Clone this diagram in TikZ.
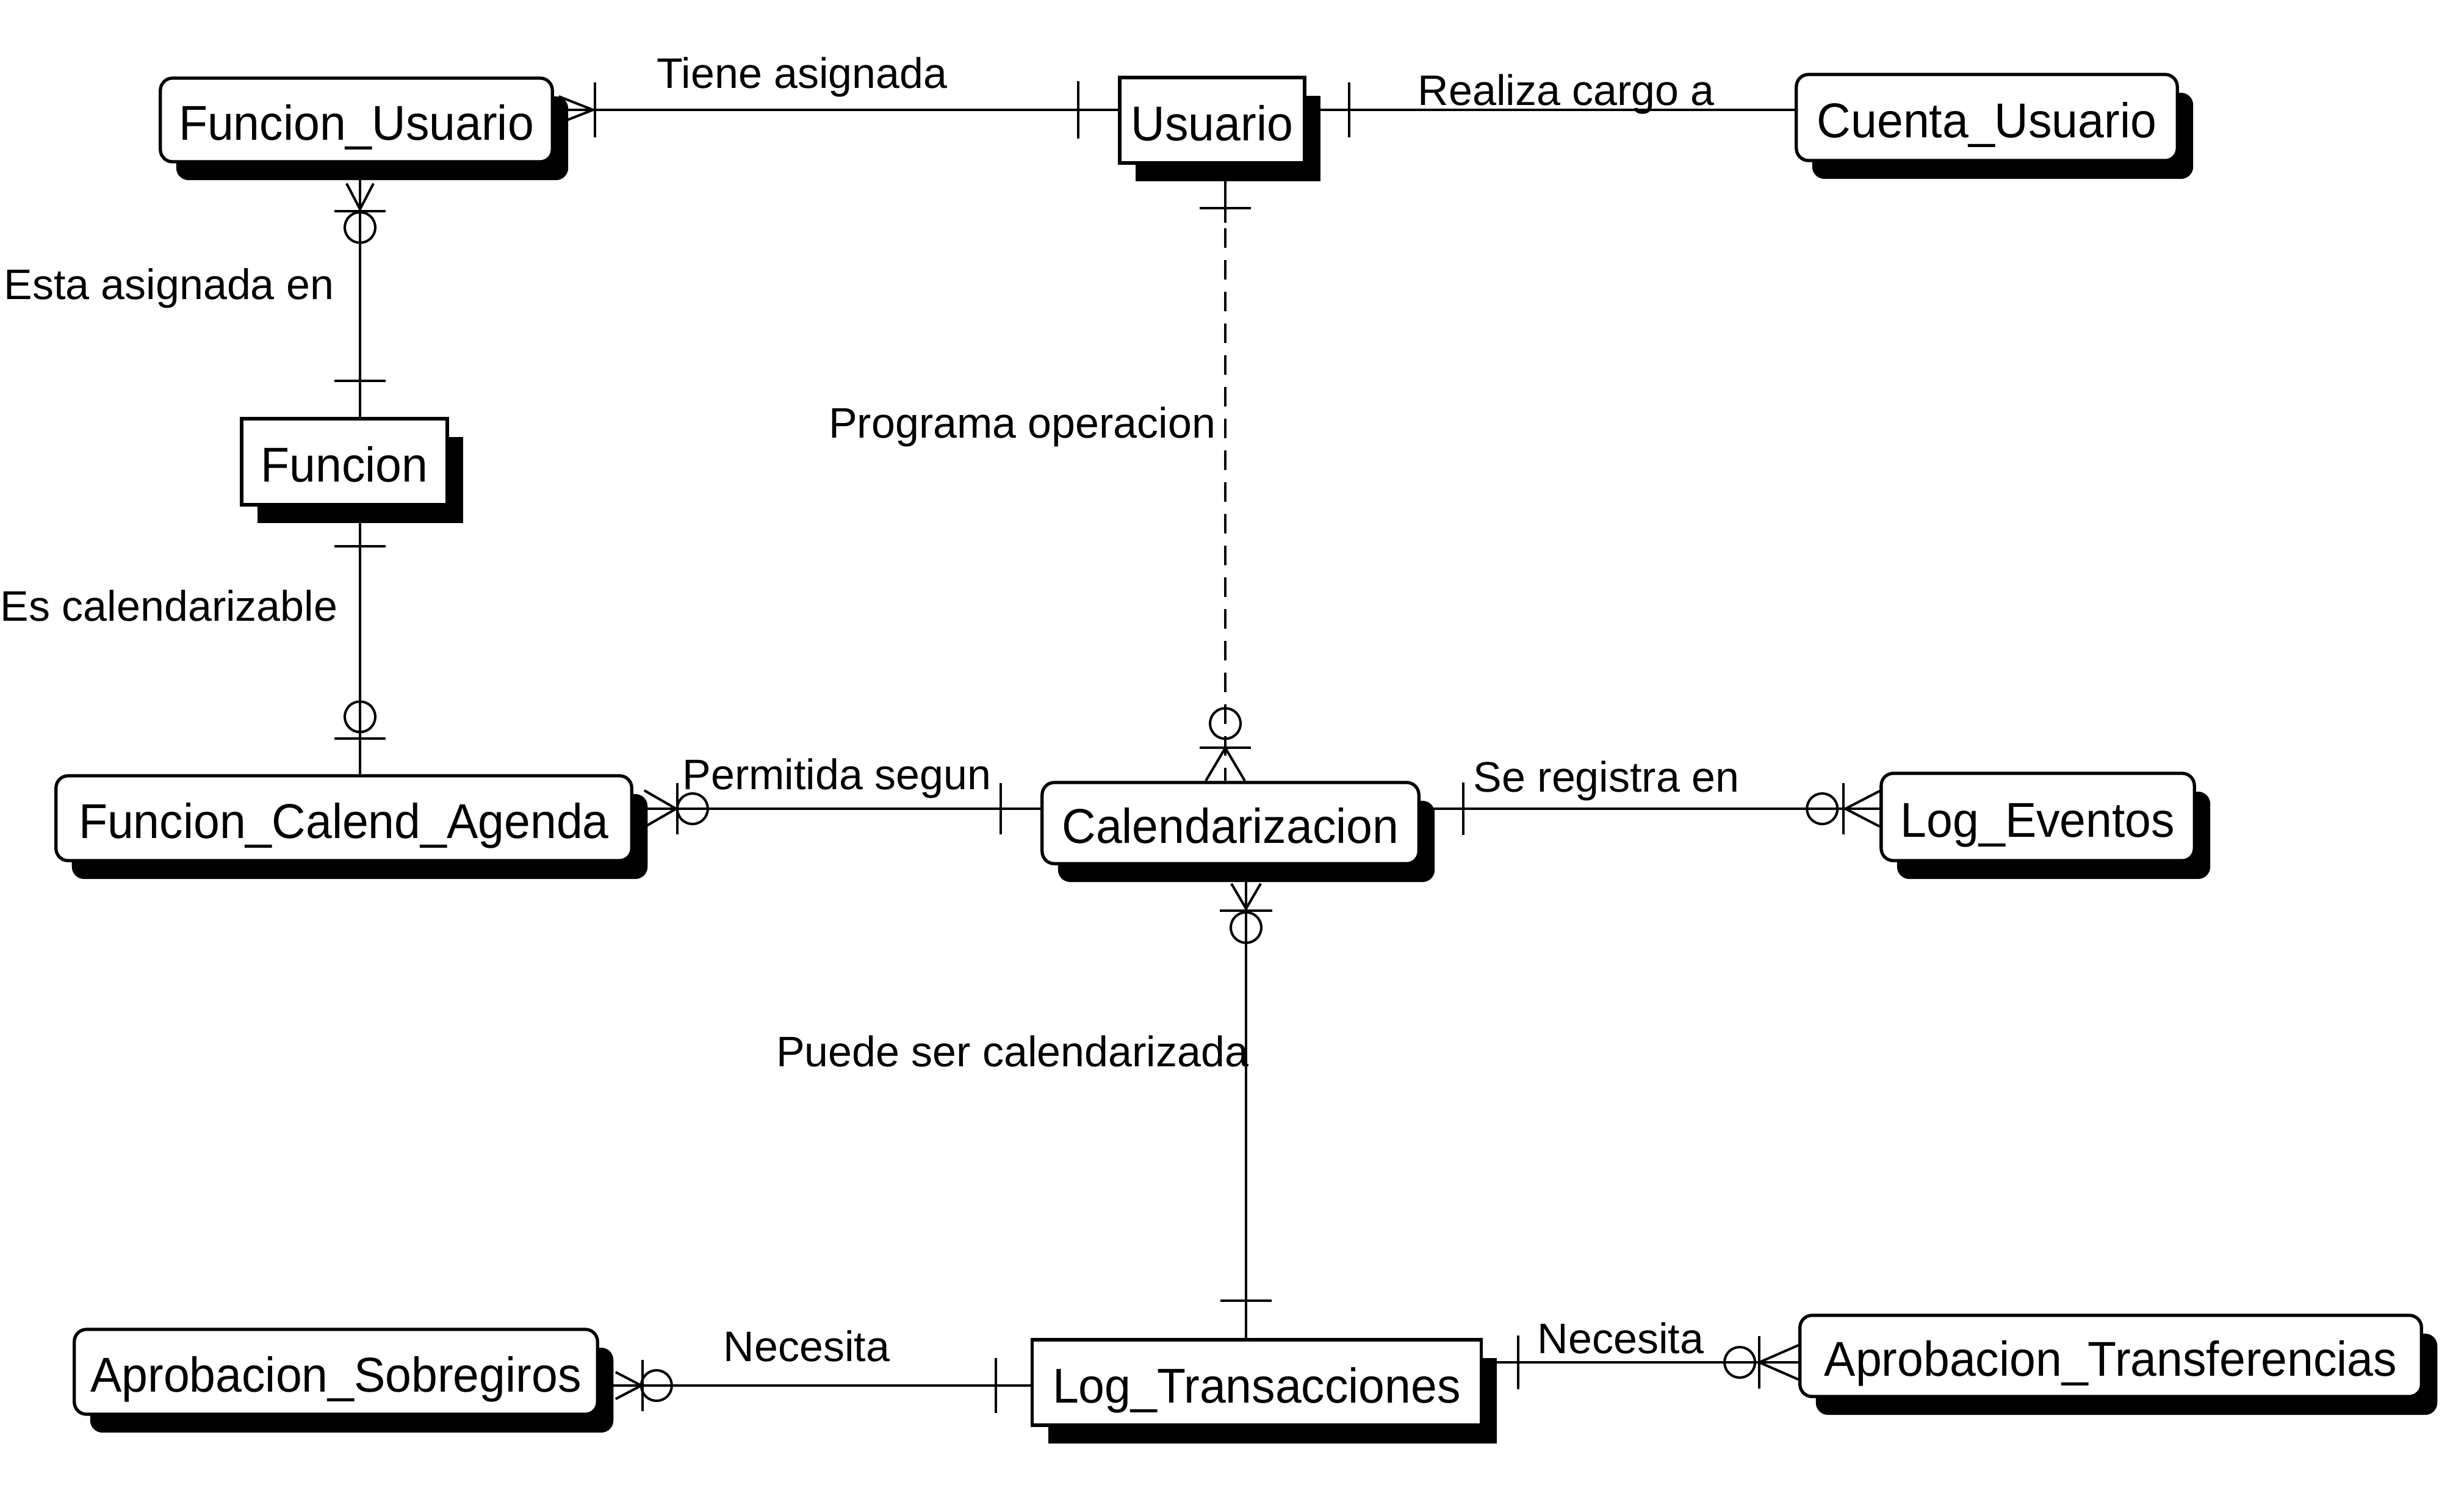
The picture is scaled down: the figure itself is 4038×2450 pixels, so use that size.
\documentclass[tikz,border=0pt]{standalone}
\usepackage{fontspec}
\setmainfont{Liberation Sans}
\newfontfamily\entfont[FakeStretch=0.96]{Liberation Sans}
\usetikzlibrary{shadows}
\begin{document}
\begin{tikzpicture}[x=0.01cm,y=-0.01cm,
  conn/.style={line width=1.15pt,black},
  entity/.style={draw,line width=1.5pt,fill=white,rounded corners=0.2cm,inner sep=0pt,
    text height=0.66cm,text depth=0pt,
    font=\entfont\fontsize{22.8pt}{27pt}\selectfont,
    drop shadow={shadow xshift=0.26cm,shadow yshift=-0.30cm,fill=black,opacity=1}},
  square/.style={sharp corners},
  rel/.style={font=\fontsize{19.9pt}{24pt}\selectfont,inner sep=0pt},
  pics/foot/.style n args={3}{code={\draw[conn] (#1,-#3) -- (#2,0) -- (#1,#3);}},
  pics/cbar/.style 2 args={code={\draw[conn] (#1,-#2) -- (#1,#2);}},
  pics/ring/.style={code={\draw[conn] (#1,0) circle[radius=0.25cm];}},
]
\fill[white] (0,0) rectangle (4038,2450);
\useasboundingbox (0,0) rectangle (4038,2450);

% entities
\node[entity,minimum width=6.42cm,minimum height=1.37cm] (fu) at (584,196.5) {Funcion\_Usuario};
\node[entity,square,minimum width=3.03cm,minimum height=1.40cm] (us) at (1986.5,197) {Usuario};
\node[entity,minimum width=6.24cm,minimum height=1.41cm] (cu) at (3256,192.5) {Cuenta\_Usuario};
\node[entity,square,minimum width=3.37cm,minimum height=1.41cm] (fn) at (564.5,756.5) {Funcion};
\node[entity,minimum width=9.43cm,minimum height=1.39cm] (fca) at (563.5,1340.5) {Funcion\_Calend\_Agenda};
\node[entity,minimum width=6.17cm,minimum height=1.33cm] (ca) at (2016.5,1348.5) {Calendarizacion};
\node[entity,minimum width=5.13cm,minimum height=1.43cm] (le) at (3339.5,1338.5) {Log\_Eventos};
\node[entity,minimum width=8.57cm,minimum height=1.39cm] (as) at (550.5,2247.5) {Aprobacion\_Sobregiros};
\node[entity,square,minimum width=7.35cm,minimum height=1.40cm] (lt) at (2059.5,2265) {Log\_Transacciones};
\node[entity,minimum width=10.18cm,minimum height=1.33cm] (at) at (3459,2221.5) {Aprobacion\_Transferencias};

% Funcion_Usuario -- Usuario
\draw[conn] (fu.east |- 0,180) -- (us.west |- 0,180);
\path (fu.east |- 0,180) pic{foot={8}{64}{22}} pic{cbar={67}{45}};
\path (us.west |- 0,180) pic[rotate=180]{cbar={65}{47}};

% Usuario -- Cuenta_Usuario
\draw[conn] (us.east |- 0,180) -- (cu.west |- 0,180);
\path (us.east |- 0,180) pic{cbar={70}{45}};

% Usuario -- Calendarizacion (non-identifying)
\draw[conn,dash pattern=on 0.32cm off 0.2cm] (us.south -| 2008,0) -- (ca.north -| 2008,0);
\draw[conn] (us.south -| 2008,0) -- ++(0,95);
\path (us.south -| 2008,0) pic[rotate=-90]{cbar={71}{42}};
\path (ca.north -| 2008,0) pic[rotate=90]{foot={0}{54}{32}} pic[rotate=90]{cbar={54}{42}} pic[rotate=90]{ring=94};

% Funcion_Usuario -- Funcion
\draw[conn] (fu.south -| 590,0) -- (fn.north -| 590,0);
\path (fu.south -| 590,0) pic[rotate=-90]{foot={33}{75}{22}} pic[rotate=-90]{cbar={78}{42}} pic[rotate=-90]{ring=105};
\path (fn.north -| 590,0) pic[rotate=90]{cbar={59}{42}};

% Funcion -- Funcion_Calend_Agenda
\draw[conn] (fn.south -| 590,0) -- (fca.north -| 590,0);
\path (fn.south -| 590,0) pic[rotate=-90]{cbar={65}{42}};
\path (fca.north -| 590,0) pic[rotate=90]{cbar={58}{42}} pic[rotate=90]{ring=94};

% Funcion_Calend_Agenda -- Calendarizacion
\draw[conn] (fca.east |- 0,1325) -- (ca.west |- 0,1325);
\path (fca.east |- 0,1325) pic{foot={18}{70}{30}} pic{cbar={72}{42}} pic{ring=97};
\path (ca.west |- 0,1325) pic[rotate=180]{cbar={65}{42}};

% Calendarizacion -- Log_Eventos
\draw[conn] (ca.east |- 0,1325) -- (le.west |- 0,1325);
\path (ca.east |- 0,1325) pic{cbar={70}{43}};
\path (le.west |- 0,1325) pic[rotate=180]{foot={0}{56}{29}} pic[rotate=180]{cbar={59}{42}} pic[rotate=180]{ring=94};

% Calendarizacion -- Log_Transacciones
\draw[conn] (ca.south -| 2042,0) -- (lt.north -| 2042,0);
\path (ca.south -| 2042,0) pic[rotate=-90]{foot={30}{71}{24}} pic[rotate=-90]{cbar={74}{43}} pic[rotate=-90]{ring=102};
\path (lt.north -| 2042,0) pic[rotate=90]{cbar={61}{42}};

% Aprobacion_Sobregiros -- Log_Transacciones
\draw[conn] (as.east |- 0,2270) -- (lt.west |- 0,2270);
\path (as.east |- 0,2270) pic{foot={27}{69}{22}} pic{cbar={71}{42}} pic{ring=94};
\path (lt.west |- 0,2270) pic[rotate=180]{cbar={57}{45}};

% Log_Transacciones -- Aprobacion_Transferencias
\draw[conn] (lt.east |- 0,2232) -- (at.west |- 0,2232);
\path (lt.east |- 0,2232) pic{cbar={58}{44}};
\path (at.west |- 0,2232) pic[rotate=180]{foot={0}{64}{28}} pic[rotate=180]{cbar={64}{43}} pic[rotate=180]{ring=96};

% relationship names
\node[rel,anchor=base west] (l1) at (1076,144) {Tiene asignada};
\node[rel,anchor=base west] (l2) at (2323,172) {Realiza cargo a};
\node[rel,anchor=base east] (l3) at (548,490) {Esta asignada en};
\node[rel,anchor=base east] (l4) at (554,1017) {Es calendarizable};
\node[rel,anchor=base east] (l5) at (1993,717) {Programa operacion};
\node[rel,anchor=base west] (l6) at (1118,1293) {Permitida segun};
\node[rel,anchor=base west] (l7) at (2414,1297) {Se registra en};
\node[rel,anchor=base east] (l8) at (2047,1747) {Puede ser calendarizada};
\node[rel,anchor=base west] (l9) at (1185,2230) {Necesita};
\node[rel,anchor=base west] (l10) at (2519,2217) {Necesita};
\end{tikzpicture}
\end{document}
